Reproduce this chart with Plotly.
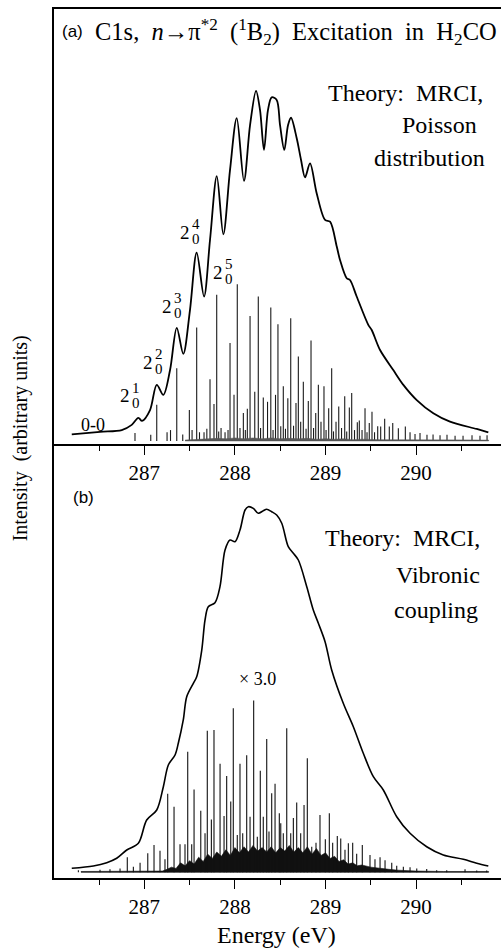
import plotly.graph_objects as go

# ---------------- panel (a): MRCI, Poisson distribution ----------------
env_a_e = [286.199, 286.511, 286.751, 286.861, 286.934, 286.975, 287.063, 287.137, 287.210, 287.284,
           287.358, 287.430, 287.504, 287.578, 287.659, 287.725, 287.800, 287.872, 287.946, 288.020,
           288.100, 288.167, 288.233, 288.277, 288.321, 288.365, 288.406, 288.461, 288.498, 288.545,
           288.586, 288.619, 288.682, 288.730, 288.774, 288.829, 288.903, 288.995, 289.050, 289.124,
           289.160, 289.234, 289.270, 289.344, 289.472, 289.510, 289.602, 289.748, 289.859, 290.007,
           290.190, 290.374, 290.669, 290.797]
env_a_i = [2.2, 2.8, 3.2, 4.4, 6.0, 5.3, 7.8, 13.6, 11.3, 17.0,
           26.7, 20.7, 30.8, 44.0, 33.9, 46.9, 61.6, 48.2, 63.0, 74.9,
           60.5, 73.3, 81.2, 76.8, 67.6, 76.8, 79.7, 79.1, 73.3, 67.6,
           73.3, 75.0, 70.3, 65.3, 61.3, 64.5, 57.6, 51.5, 51.1, 45.4,
           42.3, 38.1, 37.7, 33.9, 27.4, 26.2, 21.6, 17.0, 13.6, 10.1,
           7.06, 5.13, 3.45, 2.69]

# stick heights above the stick baseline
stick_a_e = [286.897, 287.071, 287.137, 287.251, 287.289, 287.358, 287.424, 287.497, 287.527, 287.578,
             287.609, 287.659, 287.690, 287.725, 287.769, 287.799, 287.821, 287.847, 287.891, 287.924,
             287.946, 287.990, 288.026, 288.056, 288.093, 288.115, 288.137, 288.167, 288.219, 288.258,
             288.283, 288.313, 288.360, 288.396, 288.421, 288.448, 288.475, 288.506, 288.534, 288.558,
             288.584, 288.616, 288.647, 288.674, 288.700, 288.726, 288.755, 288.785, 288.810, 288.840,
             288.868, 288.892, 288.921, 288.950, 288.983, 289.006, 289.035, 289.068, 289.088, 289.116,
             289.146, 289.177, 289.212, 289.234, 289.263, 289.289, 289.320, 289.351, 289.373, 289.403,
             289.436, 289.458, 289.483, 289.513, 289.541, 289.576, 289.609, 289.653, 289.704, 289.742,
             289.804, 289.881, 289.933, 289.988, 290.043, 290.120, 290.187, 290.264, 290.341, 290.430,
             290.518, 290.617, 290.705, 290.783]
stick_a_h = [1.8, 1.4, 8.3, 2.0, 2.5, 16.7, 1.5, 7.1, 2.5, 26.1,
             2.0, 2.0, 2.8, 14.2, 8.5, 33.6, 2.2, 3.0, 2.0, 2.5,
             22.5, 10.6, 36.0, 3.0, 6.4, 2.5, 7.4, 28.7, 11.3, 33.2,
             3.0, 10.0, 9.0, 30.7, 2.5, 10.6, 26.8, 3.4, 12.6, 2.8,
             9.8, 28.2, 3.5, 8.7, 19.4, 4.4, 13.6, 2.8, 9.2, 23.1,
             3.0, 6.4, 12.9, 4.4, 12.6, 2.5, 7.5, 16.7, 2.2, 4.4,
             7.9, 3.0, 10.3, 2.2, 7.7, 11.0, 2.5, 4.3, 4.7, 2.5,
             7.5, 2.0, 4.1, 6.7, 2.0, 3.4, 3.3, 5.1, 3.3, 4.1,
             2.9, 3.3, 2.0, 1.6, 1.8, 1.4, 1.5, 1.3, 1.4, 1.2,
             1.2, 1.3, 1.2, 1.3]
# weak unresolved lines along the baseline (height above baseline)
forest_a_e = [287.45, 287.60, 287.70, 287.80, 287.90, 288.00, 288.10, 288.20, 288.30, 288.40,
              288.50, 288.60, 288.70, 288.80, 288.90, 289.00, 289.10, 289.20, 289.30, 289.40,
              289.60, 289.80, 290.00, 290.40, 290.80]
forest_a_h = [0.2, 0.4, 0.5, 0.6, 0.5, 0.7, 0.5, 0.7, 0.5, 0.7,
              0.5, 0.6, 0.5, 0.6, 0.4, 0.5, 0.4, 0.5, 0.3, 0.4,
              0.3, 0.3, 0.3, 0.2, 0.2]

# peak labels 2^n_0 (position of the big "2")
prog_label_e = [286.784, 287.039, 287.251, 287.449, 287.813]
prog_label_i = [11.15, 18.8, 31.66, 48.7, 39.5]
prog_label_n = ["1", "2", "3", "4", "5"]

# ---------------- panel (b): MRCI, vibronic coupling ----------------
env_b_e = [286.199, 286.437, 286.585, 286.695, 286.806, 286.934, 287.026, 287.137, 287.210, 287.265,
           287.339, 287.375, 287.430, 287.468, 287.541, 287.578, 287.634, 287.670, 287.706, 287.780,
           287.835, 287.891, 287.946, 288.001, 288.056, 288.112, 288.148, 288.203, 288.258, 288.313,
           288.351, 288.406, 288.461, 288.517, 288.589, 288.645, 288.700, 288.793, 288.865, 288.921,
           288.995, 289.068, 289.196, 289.307, 289.417, 289.528, 289.638, 289.786, 289.933, 290.117,
           290.300, 290.521, 290.669, 290.797]
env_b_i = [2.24, 2.76, 3.52, 4.54, 6.45, 7.99, 13.36, 15.67, 21.04, 26.04,
           28.34, 31.04, 36.41, 41.77, 44.86, 46.38, 52.53, 59.45, 62.51, 63.43,
           67.12, 75.58, 77.88, 77.49, 80.18, 84.79, 85.55, 85.18, 84.03, 84.63,
           84.95, 84.40, 83.64, 81.73, 76.34, 74.82, 73.27, 67.12, 61.75, 58.69,
           54.45, 47.93, 40.25, 34.86, 28.73, 23.34, 20.28, 14.12, 10.30, 7.21,
           5.30, 4.31, 3.39, 2.76]

# stick tops (x 3.0)
stick_b_e = [286.272, 286.511, 286.621, 286.732, 286.812, 286.879, 286.953, 287.038, 287.107, 287.173,
             287.228, 287.258, 287.328, 287.394, 287.449, 287.479, 287.523, 287.549, 287.623, 287.670,
             287.695, 287.740, 287.769, 287.836, 287.880, 287.909, 287.954, 287.982, 288.026, 288.056,
             288.086, 288.130, 288.167, 288.207, 288.247, 288.280, 288.313, 288.351, 288.376, 288.406,
             288.443, 288.490, 288.506, 288.534, 288.572, 288.616, 288.645, 288.682, 288.726, 288.763,
             288.799, 288.848, 288.895, 288.939, 288.998, 289.042, 289.079, 289.130, 289.168, 289.215,
             289.252, 289.300, 289.344, 289.406, 289.491, 289.546, 289.602, 289.657, 289.731, 289.786,
             289.859, 289.933, 290.007, 290.117, 290.227, 290.338, 290.540, 290.669, 290.779]
stick_b_top = [1.8, 1.9, 2.0, 2.2, 4.8, 2.6, 3.5, 5.7, 7.6, 6.3,
               4.3, 19.4, 16.4, 7.8, 7.8, 29.1, 7.8, 20.4, 15.5, 10.3,
               33.9, 13.5, 34.1, 26.3, 14.3, 23.5, 17.6, 39.1, 9.9, 26.3,
               10.3, 28.3, 14.1, 40.9, 9.5, 24.7, 14.1, 32.0, 10.7, 19.5,
               21.7, 14.9, 12.6, 10.3, 34.5, 10.3, 13.8, 17.4, 10.3, 16.8,
               27.6, 7.2, 8.1, 14.5, 8.9, 14.9, 8.1, 9.7, 9.1, 6.5,
               8.0, 8.1, 5.6, 7.6, 5.3, 4.3, 4.8, 4.1, 3.5, 2.8,
               2.6, 2.5, 2.2, 2.1, 1.8, 1.8, 2.0, 1.7, 1.7]
# dense unresolved lines at the base (tops)
forest_b_e = [286.30, 287.20, 287.25, 287.30, 287.35, 287.40, 287.45, 287.50, 287.55, 287.60,
              287.65, 287.70, 287.75, 287.80, 287.85, 287.90, 287.95, 288.00, 288.05, 288.10,
              288.15, 288.20, 288.25, 288.30, 288.35, 288.40, 288.45, 288.50, 288.55, 288.60,
              288.65, 288.70, 288.75, 288.80, 288.85, 288.90, 288.95, 289.00, 289.05, 289.10,
              289.15, 289.20, 289.25, 289.30, 289.35, 289.40, 289.50, 289.60, 289.70, 289.80,
              290.00, 290.30, 290.80]
forest_b_top = [1.5, 1.6, 2.0, 2.5, 2.2, 3.5, 2.8, 4.0, 3.2, 4.8,
                3.8, 5.5, 4.5, 6.0, 5.0, 6.5, 5.2, 7.0, 5.8, 7.2,
                6.0, 7.5, 6.2, 7.0, 6.0, 7.2, 5.8, 7.0, 6.2, 7.5,
                6.0, 7.0, 5.8, 7.2, 5.5, 6.8, 5.2, 5.8, 4.5, 5.0,
                3.8, 4.2, 3.2, 3.5, 2.8, 3.0, 2.5, 2.2, 2.0, 1.8,
                1.6, 1.5, 1.5]

tick_vals = [287, 288, 289, 290]
minor_vals = [286.5, 287.5, 288.5, 289.5, 290.5]

STICK_BASE_A = 0.7
STICK_BASE_B = 1.3
SERIF = "Liberation Serif, serif"
SANS = "Liberation Sans, Arial, sans-serif"
NB = "\u00a0"


def stick_xy(e, top, base):
    xs, ys = [], []
    for x, y in zip(e, top):
        xs += [x, x, None]
        ys += [base, y, None]
    return xs, ys


def forest_xy(e, top, base):
    return list(e) + list(e)[::-1], list(top) + [base] * len(e)


fig = go.Figure()

# panel (a) -> x2 / y2
xs, ys = stick_xy(stick_a_e, [STICK_BASE_A + h for h in stick_a_h], STICK_BASE_A)
fig.add_trace(go.Scatter(x=xs, y=ys, mode="lines", line=dict(color="#1a1a1a", width=1.1),
                         xaxis="x2", yaxis="y2"))
fx, fy = forest_xy(forest_a_e, [STICK_BASE_A + h for h in forest_a_h], STICK_BASE_A)
fig.add_trace(go.Scatter(x=fx, y=fy, mode="lines", fill="toself", fillcolor="#555",
                         line=dict(color="#555", width=0.5), xaxis="x2", yaxis="y2"))
fig.add_trace(go.Scatter(x=env_a_e, y=env_a_i, mode="lines",
                         line=dict(color="black", width=1.8, shape="spline", smoothing=0.9),
                         xaxis="x2", yaxis="y2"))

# panel (b) -> x / y
fx, fy = forest_xy(forest_b_e, forest_b_top, STICK_BASE_B)
fig.add_trace(go.Scatter(x=fx, y=fy, mode="lines", fill="toself", fillcolor="#111",
                         line=dict(color="#111", width=0.6)))
xs, ys = stick_xy(stick_b_e, stick_b_top, STICK_BASE_B)
fig.add_trace(go.Scatter(x=xs, y=ys, mode="lines", line=dict(color="#111", width=1.1)))
fig.add_trace(go.Scatter(x=env_b_e, y=env_b_i, mode="lines",
                         line=dict(color="black", width=1.6, shape="spline", smoothing=0.9)))

ann = []


def txt(x, y, s, size, font=SERIF, xref="x2", yref="y2", xanchor="center", **kw):
    ann.append(dict(x=x, y=y, xref=xref, yref=yref, text=s, showarrow=False,
                    xanchor=xanchor, yanchor="middle",
                    font=dict(family=font, size=size, color="black"), **kw))


txt(286.21, 94.8, "(a)", 17, font=SANS)
txt(286.434, 94.8, "C1s," + NB * 2 + "<i>n</i>→π<sup>*2</sup>" + NB * 2 + "(<sup>1</sup>B<sub>2</sub>)" + NB * 2
    + "Excitation" + NB * 2 + "in" + NB * 2 + "H<sub>2</sub>CO", 24.5, xanchor="left")
txt(290.76, 80.6, "Theory:" + NB * 2 + "MRCI,", 24, xanchor="right")
txt(290.253, 73.3, "Poisson", 24)
txt(290.786, 65.7, "distribution", 24, xanchor="right")
txt(286.437, 4.37, "0-0", 18)
for e, i, n in zip(prog_label_e, prog_label_i, prog_label_n):
    txt(e, i, "2", 19)
    txt(e, i, n, 15, xshift=11, yshift=8)
    txt(e, i, "0", 15, xshift=11, yshift=-7)

txt(286.33, 87.7, "(b)", 17, font=SANS, xref="x", yref="y")
txt(290.724, 78.3, "Theory:" + NB * 2 + "MRCI,", 24, xref="x", yref="y", xanchor="right")
txt(290.242, 69.8, "Vibronic", 24, xref="x", yref="y")
txt(290.22, 61.75, "coupling", 24, xref="x", yref="y")
txt(288.249, 45.8, "×" + NB + "3.0", 18, xref="x", yref="y")

txt(-0.076, 0.506, "Intensity" + NB * 2 + "(arbitrary units)", 20, xref="paper", yref="paper",
    textangle=-90)
txt(0.497, -0.0656, "Energy (eV)", 24, xref="paper", yref="paper")

xcommon = dict(range=[286.003, 290.937], tickmode="array", tickvals=tick_vals, ticks="outside",
               ticklen=9, tickwidth=1.3, tickcolor="black", showline=True, linecolor="black",
               linewidth=1.5, showgrid=False, zeroline=False,
               tickfont=dict(family=SERIF, size=21, color="black"),
               minor=dict(tickmode="array", tickvals=minor_vals, ticks="outside", ticklen=5,
                          tickwidth=1.2, tickcolor="black", showgrid=False))
ycommon = dict(range=[0, 100], showline=True, linecolor="black", linewidth=1.5, ticks="",
               showticklabels=False, showgrid=False, zeroline=False)

split = 434 / 869
fig.update_layout(
    width=501, height=948,
    margin=dict(l=54, r=0, t=9, b=70),
    plot_bgcolor="white", paper_bgcolor="white",
    showlegend=False,
    xaxis=dict(anchor="y", **xcommon),
    yaxis=dict(domain=[0, split], **ycommon),
    xaxis2=dict(anchor="y2", mirror=True, **xcommon),
    yaxis2=dict(domain=[split, 1], **ycommon),
    annotations=ann,
)

fig.write_html("out.html", config={"displayModeBar": False},
               post_script="document.body.style.margin='0';document.body.style.overflow='hidden';")
